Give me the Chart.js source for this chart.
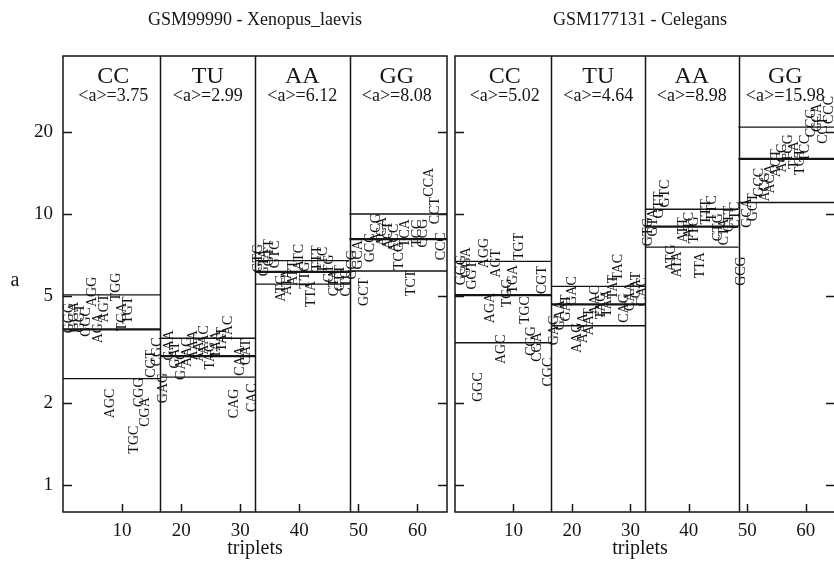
<!DOCTYPE html>
<html>
<head>
<meta charset="utf-8">
<title>Triplet a values</title>
<script src="https://cdn.jsdelivr.net/npm/chart.js@4.4.0/dist/chart.umd.min.js"></script>
<style>
  html, body { margin: 0; padding: 0; background: #fff; overflow: hidden; }
  #wrap { position: relative; width: 834px; height: 570px; overflow: hidden; }
  canvas { position: absolute; top: 0; }
  #chartLeft { left: 0; }
  #chartRight { left: 452px; }
</style>
</head>
<body>
<div id="wrap">
  <canvas id="chartLeft" width="452" height="570"></canvas>
  <canvas id="chartRight" width="390" height="570"></canvas>
</div>
<script>
// --- data ---
const groupNames = ['CC', 'TU', 'AA', 'GG'];

const triplets = [
  'GGG', 'GGA', 'GGT', 'GGC', 'AGG', 'AGA', 'AGT', 'AGC', 'TGG', 'TGA', 'TGT', 'TGC', 'CGG', 'CGA', 'CGT', 'CGC',
  'GAG', 'GAA', 'GAT', 'GAC', 'AAG', 'AAA', 'AAT', 'AAC', 'TAG', 'TAA', 'TAT', 'TAC', 'CAG', 'CAA', 'CAT', 'CAC',
  'GTG', 'GTA', 'GTT', 'GTC', 'ATG', 'ATA', 'ATT', 'ATC', 'TTG', 'TTA', 'TTT', 'TTC', 'CTG', 'CTA', 'CTT', 'CTC',
  'GCG', 'GCA', 'GCT', 'GCC', 'ACG', 'ACA', 'ACT', 'ACC', 'TCG', 'TCA', 'TCT', 'TCC', 'CCG', 'CCA', 'CCT', 'CCC'
];

const xenopusValues = [
  4.13, 4.17, 4.13, 4.0, 5.16, 3.79, 4.5, 2.0, 5.38, 4.17, 4.42, 1.47, 2.2, 1.86, 2.8, 3.1,
  2.28, 3.28, 3.02, 2.77, 3.1, 3.28, 3.2, 3.43, 3.0, 3.3, 3.45, 3.76, 2.0, 2.87, 3.1, 2.1,
  6.87, 6.63, 7.2, 7.1, 5.33, 5.6, 6.06, 6.94, 5.95, 5.07, 6.87, 6.77, 6.3, 5.57, 5.8, 5.57,
  6.5, 7.07, 5.16, 7.5, 8.88, 8.6, 8.35, 8.15, 7.0, 8.5, 5.57, 8.5, 8.5, 13.1, 10.3, 7.6
];

const celegansValues = [
  6.21, 6.64, 5.95, 2.3, 7.18, 4.5, 6.58, 3.17, 5.12, 5.75, 7.6, 4.42, 3.4, 3.23, 5.71, 2.61,
  3.73, 4.24, 4.5, 5.2, 3.49, 3.79, 4.0, 4.81, 4.6, 4.69, 5.38, 6.36, 4.5, 4.97, 5.47, 5.16,
  8.6, 9.3, 10.8, 11.9, 6.88, 6.52, 8.73, 9.1, 8.73, 6.47, 10.2, 10.5, 8.94, 8.6, 9.6, 9.9,
  6.16, 10.1, 10.6, 13.1, 12.6, 13.5, 15.4, 16.1, 17.5, 16.5, 15.6, 17.5, 21.7, 22.7, 20.4, 24.2
];

const xenopusMean = [3.75, 2.99, 6.12, 8.08];
const xenopusSd = [1.28, 0.49, 0.61, 1.92];
const celegansMean = [5.02, 4.64, 8.98, 15.98];
const celegansSd = [1.67, 0.77, 1.43, 4.95];

const xTicks = [10, 20, 30, 40, 50, 60];
const yTicks = [1, 2, 5, 10, 20];

// --- look ---
const INK = '#151515';
const SERIF = "'Liberation Serif', 'DejaVu Serif', serif";
const X_MIN = 0, X_MAX = 65, Y_MIN = 0.795, Y_MAX = 38.3;
const GROUP_SIZE = 16;

// mean / mean +- sd as broken line segments, one per group
function bandLine(means, sds, sign) {
  const pts = [];
  means.forEach((m, g) => {
    const y = m + sign * sds[g];
    const x0 = g === 0 ? X_MIN : g * GROUP_SIZE + 0.5;
    const x1 = g === means.length - 1 ? X_MAX : (g + 1) * GROUP_SIZE + 0.5;
    pts.push({ x: x0, y: y }, { x: x1, y: y }, { x: x1, y: null });
  });
  return pts;
}

function strokeLine(ctx, x0, y0, x1, y1) {
  ctx.beginPath();
  ctx.moveTo(x0, y0);
  ctx.lineTo(x1, y1);
  ctx.stroke();
}

const panelDecor = {
  id: 'panelDecor',
  beforeDatasetsDraw(chart) {
    const { ctx, chartArea: a, scales: { x } } = chart;
    ctx.save();
    ctx.strokeStyle = INK;
    ctx.lineWidth = 1.5;
    // group separators
    for (let g = 1; g < groupNames.length; g++) {
      const px = Math.round(x.getPixelForValue(g * GROUP_SIZE + 0.5)) + 0.5;
      strokeLine(ctx, px, a.top, px, a.bottom);
    }
    ctx.restore();
  },
  afterDatasetsDraw(chart) {
    // triplet names, rotated, centred on their points
    const { ctx } = chart;
    const meta = chart.getDatasetMeta(3);
    ctx.save();
    ctx.fillStyle = INK;
    ctx.font = '14px ' + SERIF;
    ctx.textAlign = 'center';
    ctx.textBaseline = 'middle';
    meta.data.forEach((el, i) => {
      ctx.save();
      ctx.translate(el.x, el.y);
      ctx.rotate(-Math.PI / 2);
      ctx.fillText(triplets[i], 0, 0);
      ctx.restore();
    });
    ctx.restore();
  },
  afterDraw(chart, args, opts) {
    const { ctx, chartArea: a, scales: { x, y } } = chart;
    ctx.save();
    ctx.strokeStyle = INK;
    ctx.lineWidth = 1.5;
    ctx.strokeRect(a.left, a.top, a.right - a.left, a.bottom - a.top);

    // inward tick marks
    yTicks.forEach(v => {
      const py = Math.round(y.getPixelForValue(v)) + 0.5;
      strokeLine(ctx, a.left, py, a.left + 9, py);
      strokeLine(ctx, a.right - 9, py, a.right, py);
    });
    xTicks.forEach(v => {
      const px = Math.round(x.getPixelForValue(v)) + 0.5;
      strokeLine(ctx, px, a.bottom, px, a.bottom - 8);
    });

    ctx.fillStyle = INK;
    ctx.textAlign = 'center';
    ctx.textBaseline = 'middle';

    // group headers
    groupNames.forEach((name, g) => {
      const cx = x.getPixelForValue(g * GROUP_SIZE + 8.5);
      ctx.font = '24px ' + SERIF;
      ctx.fillText(name, cx, 77);
      ctx.font = '18px ' + SERIF;
      ctx.fillText('<a>=' + opts.means[g].toFixed(2), cx, 96);
    });

    ctx.font = '18px ' + SERIF;
    ctx.fillText(opts.title, opts.titleX, 20);
    ctx.font = '20px ' + SERIF;
    ctx.fillText('triplets', opts.titleX, 549);
    if (opts.yTitle) {
      ctx.fillText(opts.yTitle, 15, 281);
    }
    ctx.restore();
  }
};

function buildPanel(canvasId, setup) {
  const thin = { type: 'line', borderColor: INK, borderWidth: 1.4, pointRadius: 0, spanGaps: false, tension: 0, fill: false };
  return new Chart(document.getElementById(canvasId), {
    type: 'scatter',
    data: {
      datasets: [
        Object.assign({}, thin, { label: 'mean', data: bandLine(setup.mean, setup.sd, 0), borderWidth: 2.2 }),
        Object.assign({}, thin, { label: 'mean + sd', data: bandLine(setup.mean, setup.sd, 1) }),
        Object.assign({}, thin, { label: 'mean - sd', data: bandLine(setup.mean, setup.sd, -1) }),
        {
          label: 'a',
          data: setup.values.map((v, i) => ({ x: i + 1, y: v })),
          pointRadius: 0,
          pointHoverRadius: 0
        }
      ]
    },
    options: {
      responsive: false,
      animation: false,
      events: [],
      layout: { padding: { left: setup.padLeft, right: setup.padRight, top: 56, bottom: 0 } },
      plugins: {
        legend: { display: false },
        tooltip: { enabled: false },
        panelDecor: { title: setup.title, titleX: setup.titleX, means: setup.mean, yTitle: setup.yTitle }
      },
      scales: {
        x: {
          type: 'linear',
          min: X_MIN,
          max: X_MAX,
          grid: { display: false, drawTicks: false },
          border: { display: false },
          afterBuildTicks: s => { s.ticks = xTicks.map(v => ({ value: v })); },
          afterFit: s => { s.height = 58; },
          ticks: {
            autoSkip: false,
            maxRotation: 0,
            padding: 8,
            color: INK,
            font: { family: SERIF, size: 19 },
            callback: v => String(v)
          }
        },
        y: {
          type: 'logarithmic',
          min: Y_MIN,
          max: Y_MAX,
          grid: { display: false, drawTicks: false },
          border: { display: false },
          afterBuildTicks: s => { s.ticks = yTicks.map(v => ({ value: v })); },
          afterFit: s => { s.width = setup.axisWidth; },
          ticks: {
            display: setup.showYLabels,
            padding: 10,
            color: INK,
            font: { family: SERIF, size: 19 },
            callback: v => String(v)
          }
        }
      }
    },
    plugins: [panelDecor]
  });
}

buildPanel('chartLeft', {
  title: 'GSM99990 - Xenopus_laevis',
  titleX: 255,
  yTitle: 'a',
  values: xenopusValues,
  mean: xenopusMean,
  sd: xenopusSd,
  padLeft: 0,
  padRight: 5,
  axisWidth: 63,
  showYLabels: true
});

buildPanel('chartRight', {
  title: 'GSM177131 - Celegans',
  titleX: 188,
  yTitle: null,
  values: celegansValues,
  mean: celegansMean,
  sd: celegansSd,
  padLeft: 3,
  padRight: 7,
  axisWidth: 0,
  showYLabels: false
});
</script>
</body>
</html>
